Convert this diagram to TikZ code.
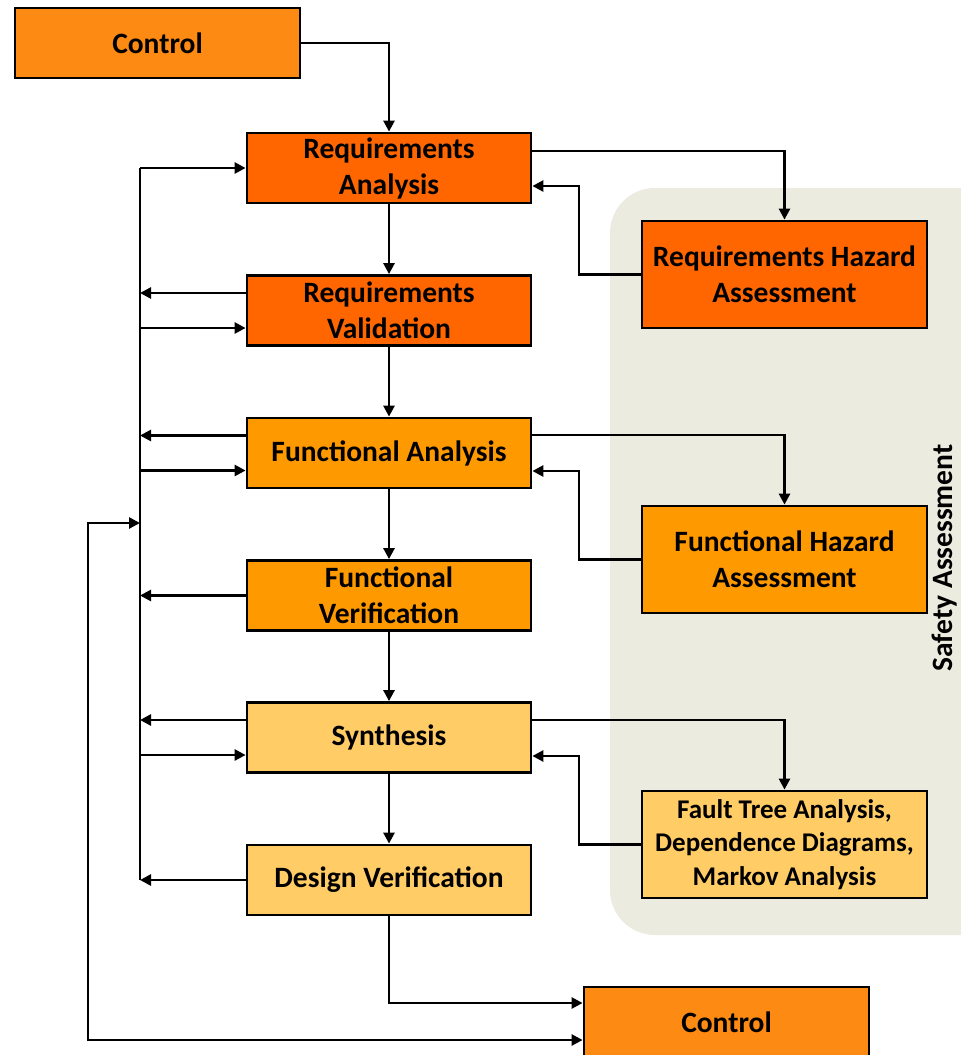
\documentclass[tikz,border=0pt]{standalone}
\usepackage{fontspec}
\setmainfont{Carlito}
\usetikzlibrary{arrows.meta}
\definecolor{ctrlorange}{HTML}{FD8A12}
\definecolor{reqorange}{HTML}{FF6600}
\definecolor{funcorange}{HTML}{FF9900}
\definecolor{synyellow}{HTML}{FFCC66}
\definecolor{safetybg}{HTML}{EBEBDF}
\tikzset{
  block/.style={draw=black, line width=2.8pt, minimum width=284pt, minimum height=70pt,
    inner sep=0pt, align=center, font=\bfseries\fontsize{29.5}{36}\selectfont},
  hazard/.style={block, minimum width=285pt, minimum height=107pt},
  link/.style={draw=black, line width=2.6pt},
  arr/.style={link, -{Triangle[length=11pt,width=11pt]}},
  twoway/.style={link, {Triangle[length=11pt,width=11pt]}-{Triangle[length=11pt,width=11pt]}}
}
\begin{document}
\begin{tikzpicture}[x=1pt,y=-1pt]
\clip (0,0) rectangle (961,1055);
\fill[white] (0,0) rectangle (961,1055);

% safety assessment region
\fill[safetybg, rounded corners=45pt] (610,188) rectangle (1010,935);
\node[rotate=90, font=\bfseries\fontsize{29.5}{36}\selectfont, inner sep=0pt] (safety) at (945,558) {Safety Assessment};

% main flow
\node[block, fill=ctrlorange, minimum width=285pt] (ctrlA) at (157.5,43) {Control};
\node[block, fill=reqorange] (ra) at (389,168) {Requirements\\Analysis};
\node[block, fill=reqorange] (rv) at (389,310.5) {Requirements\\Validation};
\node[block, fill=funcorange] (fa) at (389,453) {Functional Analysis};
\node[block, fill=funcorange] (fv) at (389,595.5) {Functional\\Verification};
\node[block, fill=synyellow] (syn) at (389,737.5) {Synthesis};
\node[block, fill=synyellow] (dv) at (389,880) {Design Verification};
\node[block, fill=ctrlorange, minimum width=285pt] (ctrlB) at (726.5,1022) {Control};

% safety assessment blocks
\node[hazard, fill=reqorange] (rha) at (784.5,274.5) {Requirements Hazard\\Assessment};
\node[hazard, fill=funcorange] (fha) at (784.5,559.5) {Functional Hazard\\Assessment};
\node[hazard, fill=synyellow, font=\bfseries\fontsize{27}{33.5}\selectfont] (fta) at (784.5,844.5)
  {Fault Tree Analysis,\\Dependence Diagrams,\\Markov Analysis};

% vertical chain
\draw[arr] (ctrlA.east) -| (ra.north);
\draw[arr] (ra) -- (rv);
\draw[arr] (rv) -- (fa);
\draw[arr] (fa) -- (fv);
\draw[arr] (fv) -- (syn);
\draw[arr] (syn) -- (dv);
\draw[arr] (dv.south) |- ([yshift=19pt]ctrlB.west);

% feedback bus on the left
\coordinate (busTop) at (140,168);
\coordinate (busBot) at (140,880);
\coordinate (busRvOut) at (140,293);
\coordinate (busRvIn) at (140,328);
\coordinate (busFaOut) at (140,435.5);
\coordinate (busFaIn) at (140,470.5);
\coordinate (busFv) at (140,595.5);
\coordinate (busSynOut) at (140,720);
\coordinate (busSynIn) at (140,755);
\coordinate (busLoop) at (140,523);
\coordinate (loopTop) at (88,523);
\coordinate (loopBot) at (88,1040);

\draw[link] (busTop) -- (busBot);
\draw[arr] (busTop) -- (ra.west);
\draw[arr] ([yshift=17.5pt]rv.west) -- (busRvOut);
\draw[arr] (busRvIn) -- ([yshift=-17.5pt]rv.west);
\draw[arr] ([yshift=17.5pt]fa.west) -- (busFaOut);
\draw[arr] (busFaIn) -- ([yshift=-17.5pt]fa.west);
\draw[arr] (fv.west) -- (busFv);
\draw[arr] ([yshift=17.5pt]syn.west) -- (busSynOut);
\draw[arr] (busSynIn) -- ([yshift=-17.5pt]syn.west);
\draw[arr] (dv.west) -- (busBot);
\draw[twoway] (busLoop) -- (loopTop) -- (loopBot) -- (loopBot -| ctrlB.west);

% hazard assessment links
\coordinate (retRa) at (579,186);
\coordinate (retFa) at (579,471);
\coordinate (retSyn) at (579,756);
\draw[arr] ([yshift=17pt]ra.east) -| (rha.north);
\draw[arr] (rha.west) -| (retRa) -- (retRa -| ra.east);
\draw[arr] ([yshift=18pt]fa.east) -| (fha.north);
\draw[arr] (fha.west) -| (retFa) -- (retFa -| fa.east);
\draw[arr] ([yshift=17.5pt]syn.east) -| (fta.north);
\draw[arr] (fta.west) -| (retSyn) -- (retSyn -| syn.east);
\end{tikzpicture}
\end{document}
